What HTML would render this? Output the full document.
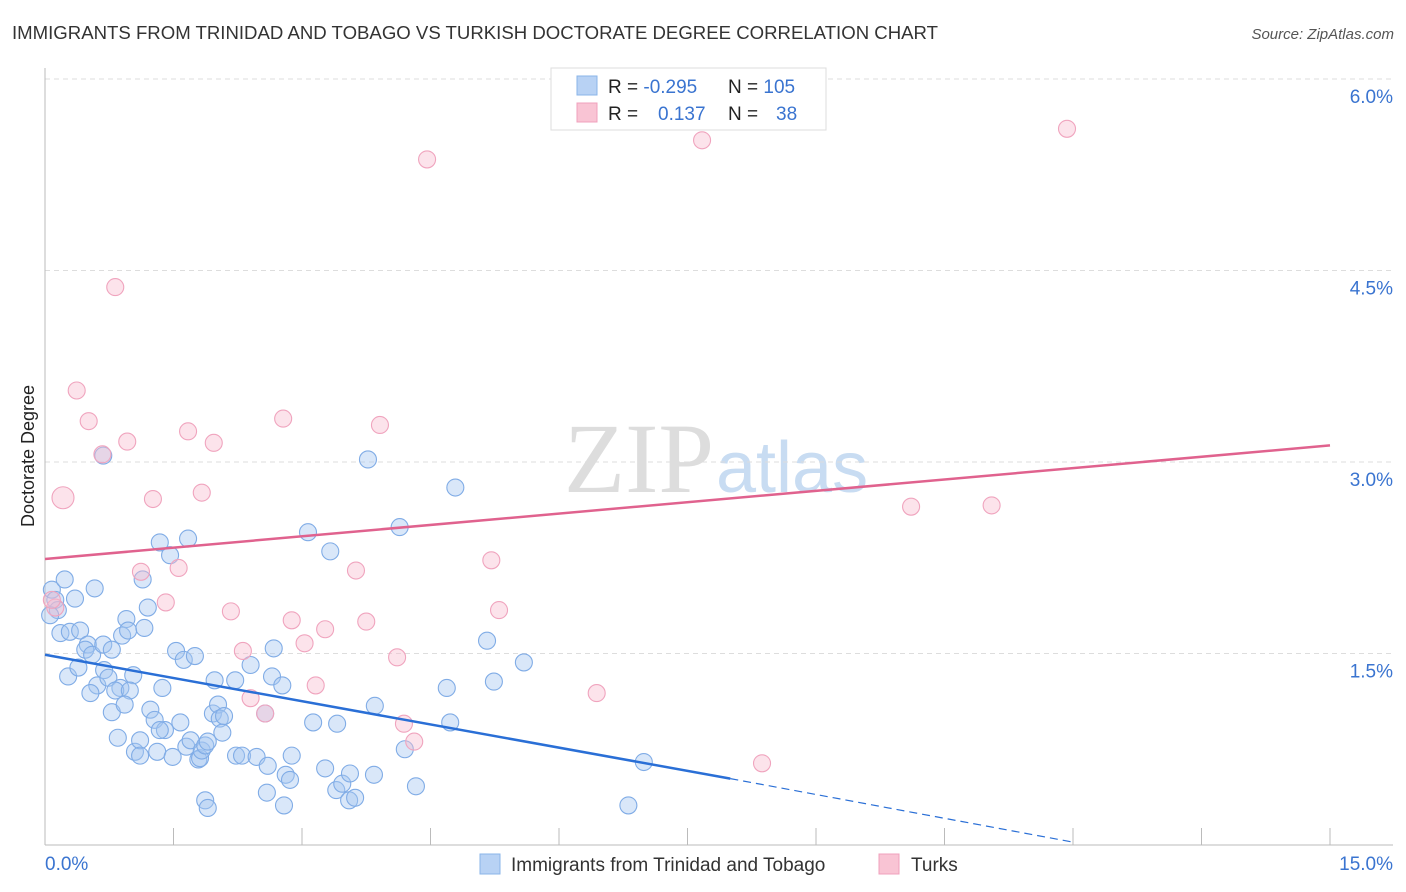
<!DOCTYPE html>
<html><head><meta charset="utf-8"><style>
body{margin:0;background:#fff;font-family:"Liberation Sans",sans-serif;}
svg{display:block}
</style></head><body>
<svg id="chart" width="1406" height="892">
<text x="12" y="39" font-size="18" fill="#333" textLength="926" lengthAdjust="spacingAndGlyphs">IMMIGRANTS FROM TRINIDAD AND TOBAGO VS TURKISH DOCTORATE DEGREE CORRELATION CHART</text>
<text x="1394" y="39" font-size="15" fill="#555" font-style="italic" text-anchor="end">Source: ZipAtlas.com</text>
<text x="34" y="456" font-size="18" fill="#222" text-anchor="middle" transform="rotate(-90 34 456)">Doctorate Degree</text>
<text x="714" y="492" font-size="100" fill="#ddd" font-family="Liberation Serif,serif" text-anchor="end">ZIP</text>
<text x="716" y="492" font-size="72" fill="#c8dcf2">atlas</text>
<g id="grid"></g><g id="pts"></g><g id="lines"></g>
<g>
<rect x="551" y="68" width="275" height="62" fill="#fff" stroke="#ddd"/>
<rect x="577" y="76" width="20" height="19" fill="#b8d2f4" stroke="#8ab4e8"/>
<rect x="577" y="103" width="20" height="19" fill="#f9c4d4" stroke="#f0a0bc"/>
<text x="608" y="93" font-size="19" fill="#222">R = <tspan fill="#3a74d0">-0.295</tspan><tspan x="728">N = </tspan><tspan fill="#3a74d0">105</tspan></text>
<text x="608" y="120" font-size="19" fill="#222">R = <tspan x="658" fill="#3a74d0">0.137</tspan><tspan x="728">N = </tspan><tspan x="776" fill="#3a74d0">38</tspan></text>
</g>
<g>
<rect x="480" y="854" width="20" height="20" fill="#b8d2f4" stroke="#8ab4e8"/>
<text x="511" y="871" font-size="19" fill="#333">Immigrants from Trinidad and Tobago</text>
<rect x="879" y="854" width="20" height="20" fill="#f9c4d4" stroke="#f0a0bc"/>
<text x="911" y="871" font-size="19" fill="#333">Turks</text>
</g>
</svg>
<script>
const blueX=[0.08,0.12,0.15,0.06,0.23,0.35,0.18,0.29,0.41,0.50,0.58,0.27,0.39,0.47,0.55,0.61,0.53,0.69,0.74,0.78,0.68,0.88,0.82,0.95,0.90,0.97,1.03,0.99,0.93,0.85,1.05,1.11,1.14,1.16,1.20,1.23,1.28,1.34,1.37,1.31,1.40,1.46,1.49,1.53,1.58,1.62,1.65,1.67,1.70,1.75,1.79,1.81,1.83,1.87,1.90,1.98,1.96,2.02,2.04,2.09,2.07,2.23,2.30,2.40,2.47,2.57,2.60,2.67,2.65,2.77,2.81,2.86,2.88,2.79,2.59,3.07,3.13,3.27,3.33,3.41,3.40,3.47,3.55,3.56,3.62,3.77,3.84,3.85,4.14,4.20,4.33,4.69,4.73,4.79,5.16,5.24,5.59,6.81,6.99,2.22,1.87,1.90,1.34,1.11,0.78,0.68];
const blueY=[2.00,1.92,1.84,1.80,2.08,1.93,1.66,1.67,1.68,1.57,2.01,1.32,1.39,1.53,1.49,1.25,1.19,1.37,1.31,1.04,1.57,1.23,1.21,1.77,1.64,1.68,1.33,1.21,1.10,0.84,0.73,0.82,2.08,1.70,1.86,1.06,0.98,2.37,1.23,0.73,0.90,2.27,0.69,1.52,0.96,1.45,0.77,2.40,0.82,1.48,0.67,0.68,0.74,0.78,0.81,1.29,1.03,1.10,0.99,1.01,0.88,0.70,0.70,1.41,0.69,1.03,0.62,1.54,1.32,1.25,0.55,0.51,0.70,0.31,0.41,2.45,0.96,0.60,2.30,0.95,0.43,0.48,0.35,0.56,0.37,3.02,0.55,1.09,2.49,0.75,0.46,1.23,0.96,2.80,1.60,1.28,1.43,0.31,0.65,1.29,0.35,0.29,0.90,0.70,1.53,3.05];
const pinkX=[0.21,0.37,0.51,0.67,0.96,1.26,0.82,1.12,1.41,1.56,1.67,1.83,1.97,2.17,2.31,2.40,2.57,2.78,2.88,3.03,3.16,3.27,3.63,3.75,3.91,4.11,4.19,4.31,4.46,5.21,5.30,6.44,7.67,8.37,10.11,11.05,11.93,0.12,0.08];
const pinkY=[2.72,3.56,3.32,3.06,3.16,2.71,4.37,2.14,1.90,2.17,3.24,2.76,3.15,1.83,1.52,1.15,1.03,3.34,1.76,1.58,1.25,1.69,2.15,1.75,3.29,1.47,0.95,0.81,5.37,2.23,1.84,1.19,5.52,0.64,2.65,2.66,5.61,1.86,1.92];
const blueTrend=[1.49,0.52,0.02]; const blueTrendX=[0,8.0,12.02];
const pinkTrend=[2.24,3.13]; const pinkTrendX=[0,15];
const yTicks=[1.5,3.0,4.5,6.0]; const yTickLabels=["1.5%","3.0%","4.5%","6.0%"];
const xTicks=[0,1.5,3,4.5,6,7.5,9,10.5,12,13.5,15];
const NS="http://www.w3.org/2000/svg";
const X=v=>45+v/15*1285, Y=v=>845-v/1.5*191.5;
function mk(t,a,p){const e=document.createElementNS(NS,t);for(const k in a)e.setAttribute(k,a[k]);p.appendChild(e);return e;}
const g=document.getElementById('grid');
yTicks.forEach((t,i)=>{
 const l=mk('line',{x1:45,x2:1393,y1:Y(t),y2:Y(t),stroke:'#ddd','stroke-dasharray':'5,4'},g);
 
 
 const tx=mk('text',{x:1393,y:Y(t)+24,'font-size':19,fill:'#3a74d0','text-anchor':'end'},g);tx.textContent=yTickLabels[i];
 
 
});
mk('line',{x1:45,x2:45,y1:68,y2:845,stroke:'#bbb'},g);
mk('line',{x1:45,x2:1393,y1:845,y2:845,stroke:'#bbb'},g);
xTicks.forEach(t=>{const l=mk('line',{x1:X(t),x2:X(t),y1:828,y2:845,stroke:'#bbb'},g);
 
 });
let a=mk('text',{x:45,y:870,'font-size':19,fill:'#3a74d0'},g);a.textContent='0.0%';


a=mk('text',{x:1393,y:870,'font-size':19,fill:'#3a74d0','text-anchor':'end'},g);a.textContent='15.0%';


const p=document.getElementById('pts');
blueX.forEach((x,i)=>{const c=mk('circle',{cx:X(x),cy:Y(blueY[i]),r:8.5,fill:'rgba(165,198,240,0.42)',stroke:'#80ace6','stroke-width':1.1},p);
 
 });
pinkX.forEach((x,i)=>{const c=mk('circle',{cx:X(x),cy:Y(pinkY[i]),r:i==0?11:8.5,fill:'rgba(248,188,207,0.42)',stroke:'#f0a4be','stroke-width':1.1},p);
 
 });
const L=document.getElementById('lines');
let ln=mk('line',{x1:X(blueTrendX[0]),y1:Y(blueTrend[0]),x2:X(blueTrendX[1]),y2:Y(blueTrend[1]),stroke:'#2a6fd6','stroke-width':2.5},L);


ln=mk('line',{x1:X(blueTrendX[1]),y1:Y(blueTrend[1]),x2:X(blueTrendX[2]),y2:Y(blueTrend[2]),stroke:'#2a6fd6','stroke-width':1.2,'stroke-dasharray':'8,5'},L);


ln=mk('line',{x1:X(pinkTrendX[0]),y1:Y(pinkTrend[0]),x2:X(pinkTrendX[1]),y2:Y(pinkTrend[1]),stroke:'#e0628e','stroke-width':2.5},L);


</script>
</body></html>
